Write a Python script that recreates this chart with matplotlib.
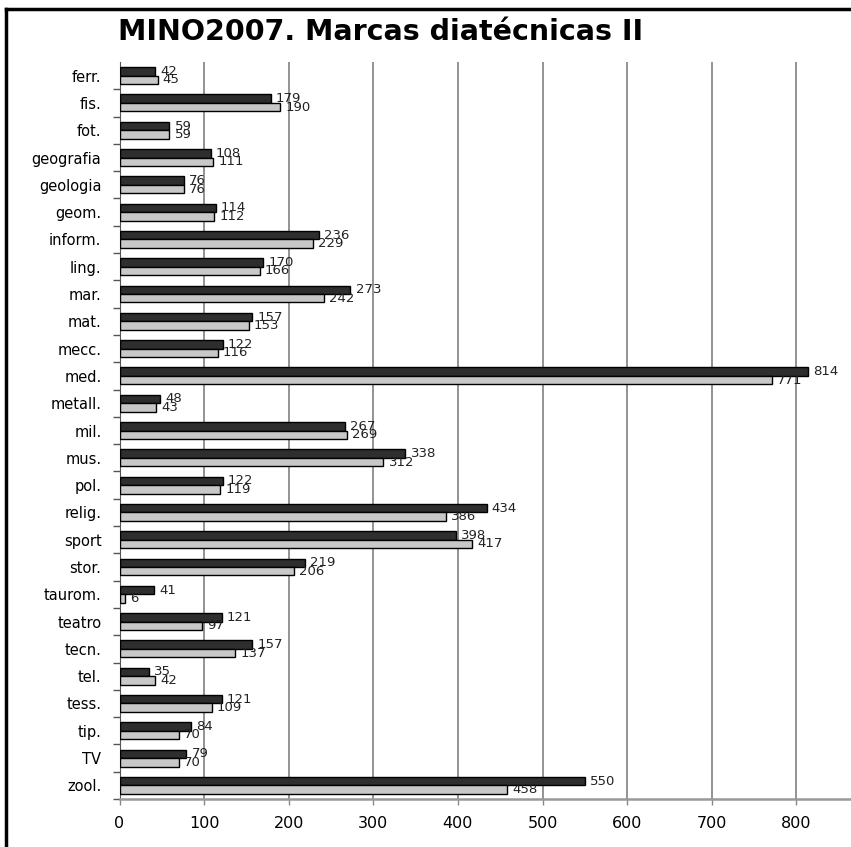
import numpy as np
import matplotlib.pyplot as plt
from matplotlib.lines import Line2D

# categorie e conteggi
categorie = ['ferr.', 'fis.', 'fot.', 'geografia', 'geologia', 'geom.', 'inform.',
             'ling.', 'mar.', 'mat.', 'mecc.', 'med.', 'metall.', 'mil.', 'mus.',
             'pol.', 'relig.', 'sport', 'stor.', 'taurom.', 'teatro', 'tecn.',
             'tel.', 'tess.', 'tip.', 'TV', 'zool.']
serie_scura = [42, 179, 59, 108, 76, 114, 236, 170, 273, 157, 122, 814, 48, 267,
               338, 122, 434, 398, 219, 41, 121, 157, 35, 121, 84, 79, 550]
serie_chiara = [45, 190, 59, 111, 76, 112, 229, 166, 242, 153, 116, 771, 43, 269,
                312, 119, 386, 417, 206, 6, 97, 137, 42, 109, 70, 70, 458]
xticks = [0, 100, 200, 300, 400, 500, 600, 700, 800]

W, H = 851, 847
fig = plt.figure(figsize=(W / 100, H / 100), dpi=100)
ax = fig.add_axes([119.5 / W, 1 - 799 / H, (W - 119.5) / W, (799 - 62) / H])

y = np.arange(len(categorie))
h = 0.31
ax.barh(y - h / 2, serie_scura, height=h, color='#2e2e2e', edgecolor='black', linewidth=1, zorder=3)
ax.barh(y + h / 2, serie_chiara, height=h, color='#c8c8c8', edgecolor='black', linewidth=1, zorder=3)

for i in range(len(categorie)):
    ax.text(serie_scura[i] + 6, y[i] - h / 2, str(serie_scura[i]), va='center', ha='left',
            fontsize=9.5, color='#222222', zorder=4)
    ax.text(serie_chiara[i] + 6, y[i] + h / 2, str(serie_chiara[i]), va='center', ha='left',
            fontsize=9.5, color='#222222', zorder=4)

ax.set_xlim(0, (W - 119.5) / 0.846)
ax.set_ylim(len(categorie) - 0.5, -0.5)

ax.set_xticks(xticks)
ax.set_xticklabels([str(v) for v in xticks], fontsize=11.5)
ax.set_yticks(y)
ax.set_yticklabels(categorie, fontsize=10.5)
ax.set_yticks(y + 0.5, minor=True)
ax.tick_params(axis='y', which='major', length=0, pad=13)
ax.tick_params(axis='y', which='minor', length=5, width=1, color='#555555', direction='out')
ax.tick_params(axis='x', length=4, width=1, color='#888888', pad=8)

ax.grid(axis='x', color='#8a8a8a', linewidth=1.3, zorder=0)
for s in ['top', 'right']:
    ax.spines[s].set_visible(False)
ax.spines['left'].set_color('#555555')
ax.spines['bottom'].set_color('#999999')
ax.spines['bottom'].set_linewidth(1.8)

fig.text(118 / W, 1 - 32 / H, 'MINO2007. Marcas diatécnicas II', fontsize=20.5,
         fontweight='bold', ha='left', va='center')

# cornice
fig.add_artist(Line2D([6 / W, 1], [1 - 9 / H, 1 - 9 / H], color='black', linewidth=2.5))
fig.add_artist(Line2D([6 / W, 6 / W], [0, 1 - 9 / H], color='black', linewidth=2.5))

fig.savefig('out.png', dpi=100)
